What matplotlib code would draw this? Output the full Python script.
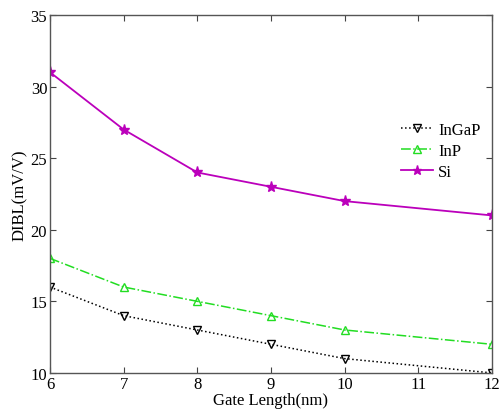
import matplotlib
matplotlib.use("Agg")
import matplotlib.pyplot as plt

gate_length = [6, 7, 8, 9, 10, 12]
ingap = [16, 14, 13, 12, 11, 10]
inp = [18, 16, 15, 14, 13, 12]
si = [31, 27, 24, 23, 22, 21]
series_labels = ["InGaP", "InP", "Si"]
xticks = [6, 7, 8, 9, 10, 11, 12]
yticks = [10, 15, 20, 25, 30, 35]

plt.rcParams['font.family'] = ['Liberation Serif', 'DejaVu Serif']
fig = plt.figure(figsize=(5.01, 4.10), dpi=100)
ax = fig.add_axes([0.0998, 0.088, 0.882, 0.873])

ax.plot(gate_length, ingap, color='black', linestyle=':', linewidth=1.1,
        marker='v', markersize=6, markerfacecolor='none', markeredgecolor='black',
        label=series_labels[0])
ax.plot(gate_length, inp, color='#22dd22', linestyle='-.', linewidth=1.1,
        marker='^', markersize=6, markerfacecolor='none', markeredgecolor='#22dd22',
        label=series_labels[1])
ax.plot(gate_length, si, color='#bb00bb', linestyle='-', linewidth=1.3,
        marker='*', markersize=8, markerfacecolor='#bb00bb', markeredgecolor='#bb00bb',
        label=series_labels[2])

ax.set_xlim(6, 12)
ax.set_ylim(10, 35)
ax.set_xticks(xticks)
ax.set_yticks(yticks)
ax.tick_params(direction='in', top=True, right=True, labelsize=12, length=4,
               color='#444444', pad=2)
for s in ax.spines.values():
    s.set_color('#555555')
    s.set_linewidth(1.0)

ax.set_xlabel("Gate Length(nm)", fontsize=12, labelpad=0)
ax.set_ylabel("DIBL(mV/V)", fontsize=12, labelpad=2)

leg = ax.legend(loc='upper left', bbox_to_anchor=(0.78, 0.72), frameon=False,
                fontsize=12, handlelength=1.9, handletextpad=0.3, labelspacing=0.3,
                borderaxespad=0, markerscale=0.85)

fig.savefig("out.png", dpi=100)
